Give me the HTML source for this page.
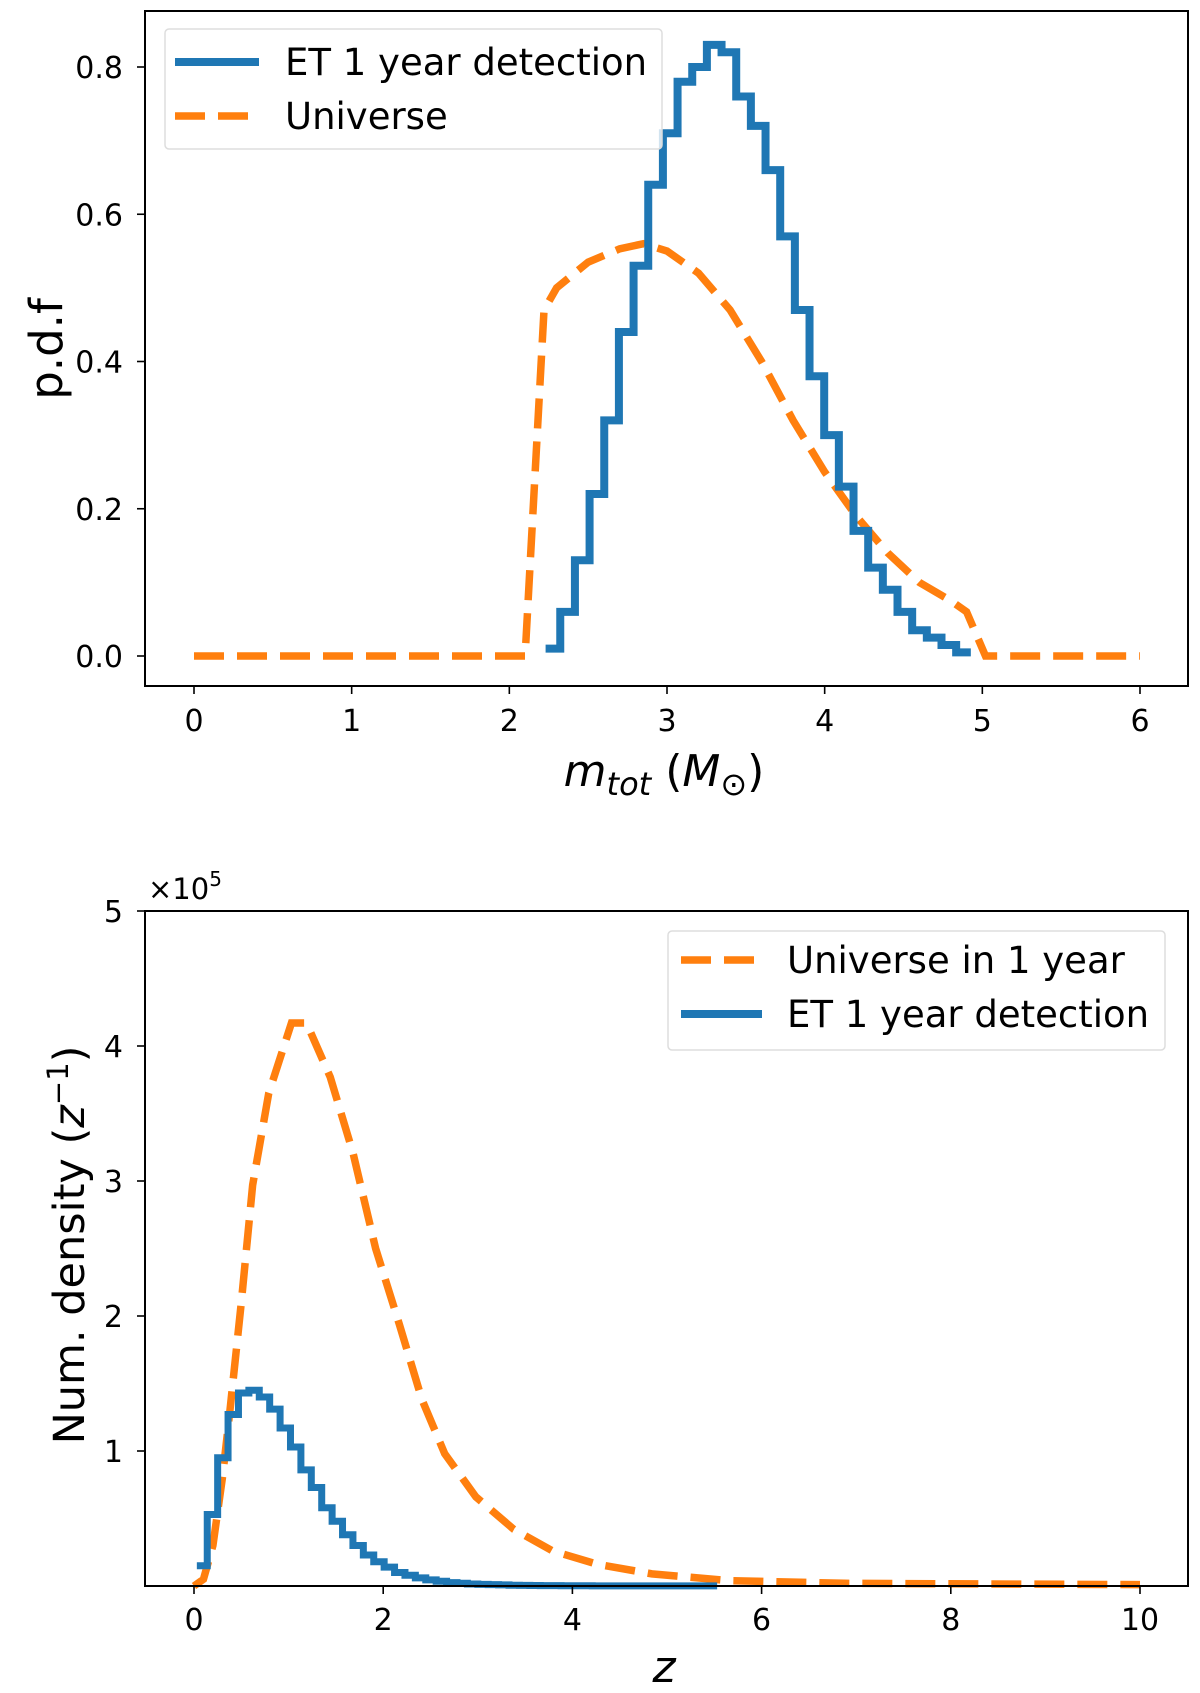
<!DOCTYPE html>
<html><head><meta charset="utf-8"><style>
html,body{margin:0;padding:0;background:#fff}
svg{display:block;font-family:"DejaVu Sans","Liberation Sans",sans-serif}
</style></head><body>
<svg id="fig" width="1200" height="1693" viewBox="0 0 1200 1693" xmlns="http://www.w3.org/2000/svg">
<g id="top"></g>
<g id="bot"></g>
</svg>
<script>
// ---- top panel data ----
const topXTicks = [0,1,2,3,4,5,6];
const topYTicks = [0.0,0.2,0.4,0.6,0.8];
const topYTickLabels = ["0.0","0.2","0.4","0.6","0.8"];
const etMassBinStart = 2.23;
const etMassBinWidth = 0.093;
const etMassValues = [0.01,0.06,0.13,0.22,0.32,0.44,0.53,0.64,0.71,0.78,0.80,0.83,0.82,0.76,0.72,0.66,0.57,0.47,0.38,0.30,0.23,0.17,0.12,0.09,0.06,0.035,0.025,0.015,0.005];
const uniMassX = [0,2.1,2.22,2.3,2.5,2.7,2.85,3.0,3.2,3.4,3.6,3.8,4.0,4.2,4.4,4.6,4.8,4.9,5.02,6];
const uniMassY = [0,0,0.47,0.50,0.535,0.553,0.56,0.55,0.52,0.47,0.40,0.32,0.25,0.19,0.14,0.10,0.075,0.06,0,0];
// ---- bottom panel data ----
const botXTicks = [0,2,4,6,8,10];
const botYTicks = [1,2,3,4,5];
const etZBinStart = 0.03;
const etZBinWidth = 0.11;
const etZValues = [0.15,0.53,0.95,1.27,1.43,1.45,1.40,1.31,1.17,1.03,0.86,0.73,0.58,0.48,0.38,0.30,0.23,0.18,0.14,0.10,0.08,0.06,0.045,0.035,0.025,0.02,0.015,0.012,0.01,0.008,0.006,0.005,0.004,0.003,0.003,0.002,0.002,0.002,0.001,0.001,0.001,0.001,0.001,0.001,0.001,0.001,0.001,0.001,0.001,0.001];
const uniZX = [0,0.1,0.2,0.3,0.38,0.5,0.62,0.79,1.03,1.19,1.44,1.68,1.92,2.17,2.41,2.65,2.98,3.38,3.79,4.27,4.84,5.65,6.87,10];
const uniZY = [0,0.05,0.3,0.8,1.3,2.1,2.97,3.65,4.17,4.17,3.77,3.21,2.5,1.94,1.38,0.98,0.66,0.42,0.26,0.16,0.09,0.04,0.02,0.01];

const NS="http://www.w3.org/2000/svg";
function mk(parent,tag,attrs,text){const e=document.createElementNS(NS,tag);for(const k in attrs)e.setAttribute(k,attrs[k]);if(text!==undefined)e.textContent=text;parent.appendChild(e);return e;}
const BLUE="#1f77b4",ORANGE="#ff7f0e";

function panel(o){
  const sx=v=>o.x0+(v-o.xmin)/(o.xmax-o.xmin)*(o.x1-o.x0);
  const sy=v=>o.y0+(v-o.ymin)/(o.ymax-o.ymin)*(o.y1-o.y0);
  return {sx,sy};
}
function stepPath(sx,sy,start,w,vals){
  let d="";
  vals.forEach((v,i)=>{const a=sx(start+i*w),b=sx(start+(i+1)*w),y=sy(v);d+=(i===0?"M":"L")+a+","+y+"L"+b+","+y;});
  return d;
}
function linePath(sx,sy,xs,ys){return xs.map((x,i)=>(i?"L":"M")+sx(x)+","+sy(ys[i])).join("");}

// ---------- TOP ----------
(function(){
  const g=document.getElementById('top');
  const L=145,R=1188,T=11,B=686;
  const {sx,sy}=panel({x0:194,x1:1140,xmin:0,xmax:6,y0:656,y1:67,ymin:0,ymax:0.8});
  let p=mk(g,'path',{d:linePath(sx,sy,uniMassX,uniMassY),fill:'none',stroke:ORANGE,'stroke-width':7.5,'stroke-dasharray':'30,13'});
  
  
  p=mk(g,'path',{d:stepPath(sx,sy,etMassBinStart,etMassBinWidth,etMassValues),fill:'none',stroke:BLUE,'stroke-width':8});
  
  
  const ax=mk(g,'rect',{x:L,y:T,width:R-L,height:B-T,fill:'none',stroke:'#000','stroke-width':2});
  
  
  topXTicks.forEach(t=>{const x=sx(t);mk(g,'line',{x1:x,x2:x,y1:B,y2:B+8,stroke:'#000','stroke-width':1.6});
    const tl=mk(g,'text',{x:x,y:B+45,'font-size':30,'text-anchor':'middle'},String(t));
    
    });
  topYTicks.forEach((t,i)=>{const y=sy(t);mk(g,'line',{x1:L-8,x2:L,y1:y,y2:y,stroke:'#000','stroke-width':1.6});
    const tl=mk(g,'text',{x:L-22,y:y+11,'font-size':30,'text-anchor':'end'},topYTickLabels[i]);
    
    });
  let t=mk(g,'text',{x:664,y:786,'font-size':44,'text-anchor':'middle'});
  
  
  t.innerHTML='<tspan font-style="italic">m</tspan><tspan font-style="italic" font-size="32" dy="9">tot</tspan><tspan dy="-9"> (</tspan><tspan font-style="italic">M</tspan><tspan font-size="32" dy="9">⊙</tspan><tspan dy="-9">)</tspan>';
  t=mk(g,'text',{x:0,y:0,'font-size':45,'text-anchor':'middle',transform:'translate(62,349) rotate(-90)'},'p.d.f');
  
  
  const lg=mk(g,'g',{});
  
  
  mk(lg,'rect',{x:165,y:29,width:497,height:120,rx:4,fill:'#fff','fill-opacity':0.8,stroke:'#ddd','stroke-width':1.5});
  mk(lg,'line',{x1:175,x2:259,y1:62,y2:62,stroke:BLUE,'stroke-width':8});
  mk(lg,'text',{x:285,y:75,'font-size':37},'ET 1 year detection');
  mk(lg,'line',{x1:175,x2:259,y1:116,y2:116,stroke:ORANGE,'stroke-width':7.5,'stroke-dasharray':'30,13'});
  mk(lg,'text',{x:285,y:129,'font-size':37},'Universe');
})();

// ---------- BOTTOM ----------
(function(){
  const g=document.getElementById('bot');
  const L=145,R=1188,T=911,B=1586;
  const {sx,sy}=panel({x0:194,x1:1140,xmin:0,xmax:10,y0:1586,y1:911,ymin:0,ymax:5});
  let p=mk(g,'path',{d:linePath(sx,sy,uniZX,uniZY),fill:'none',stroke:ORANGE,'stroke-width':7.5,'stroke-dasharray':'30,13'});
  
  
  p=mk(g,'path',{d:stepPath(sx,sy,etZBinStart,etZBinWidth,etZValues),fill:'none',stroke:BLUE,'stroke-width':7});
  
  
  const ax=mk(g,'rect',{x:L,y:T,width:R-L,height:B-T,fill:'none',stroke:'#000','stroke-width':2});
  
  
  botXTicks.forEach(t=>{const x=sx(t);mk(g,'line',{x1:x,x2:x,y1:B,y2:B+8,stroke:'#000','stroke-width':1.6});
    const tl=mk(g,'text',{x:x,y:B+44,'font-size':30,'text-anchor':'middle'},String(t));
    
    });
  botYTicks.forEach(t=>{const y=sy(t);mk(g,'line',{x1:L-8,x2:L,y1:y,y2:y,stroke:'#000','stroke-width':1.6});
    const tl=mk(g,'text',{x:L-22,y:y+11,'font-size':30,'text-anchor':'end'},String(t));
    
    });
  let t=mk(g,'text',{x:148,y:899,'font-size':29});
  
  
  t.innerHTML='×10<tspan font-size="20" dy="-13">5</tspan>';
  t=mk(g,'text',{x:664,y:1682,'font-size':44,'font-style':'italic','text-anchor':'middle'},'z');
  
  
  t=mk(g,'text',{x:0,y:0,'font-size':43,'text-anchor':'middle',transform:'translate(84,1245) rotate(-90)'});
  
  
  t.innerHTML='Num. density (<tspan font-style="italic">z</tspan><tspan font-size="29" dy="-16">−1</tspan><tspan dy="16">)</tspan>';
  const lg=mk(g,'g',{});
  
  
  mk(lg,'rect',{x:668,y:931,width:497,height:119,rx:4,fill:'#fff','fill-opacity':0.8,stroke:'#ddd','stroke-width':1.5});
  mk(lg,'line',{x1:681,x2:762,y1:960,y2:960,stroke:ORANGE,'stroke-width':7.5,'stroke-dasharray':'30,13'});
  mk(lg,'text',{x:787,y:973,'font-size':37},'Universe in 1 year');
  mk(lg,'line',{x1:681,x2:762,y1:1014,y2:1014,stroke:BLUE,'stroke-width':8});
  mk(lg,'text',{x:787,y:1027,'font-size':37},'ET 1 year detection');
})();
</script>
</body></html>
